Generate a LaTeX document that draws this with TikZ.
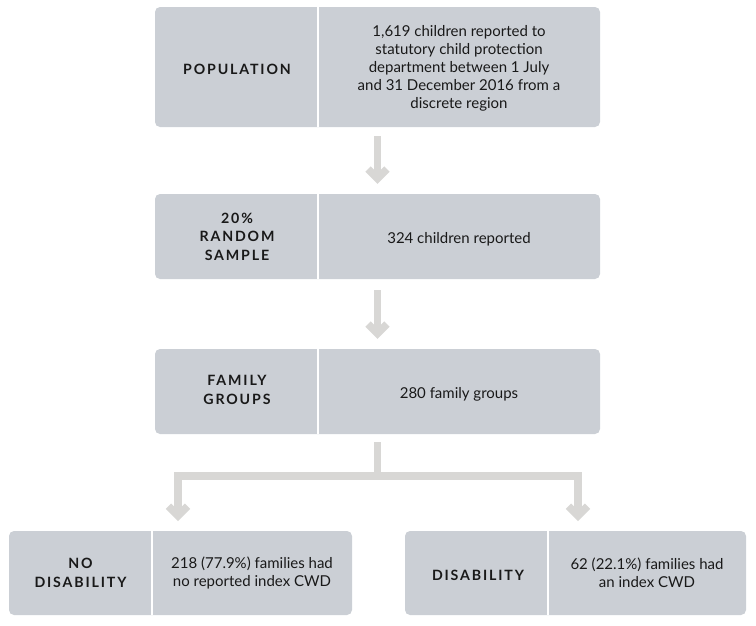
\documentclass[tikz,border=0pt]{standalone}
\usepackage{fontspec}
\setmainfont{Lato}
\newfontfamily\lblfont[LetterSpace=13]{Lato}
\usetikzlibrary{arrows.meta}
\definecolor{boxfill}{RGB}{203,207,213}
\definecolor{arrowgray}{RGB}{216,215,213}
\definecolor{txt}{RGB}{25,25,25}
\begin{document}
\begin{tikzpicture}[x=1pt,y=-1pt,
  box/.style={fill=boxfill, rounded corners=5pt, inner sep=0pt},
  divider/.style={draw=white, line width=1.6pt},
  lbl/.style={font=\lblfont\bfseries\fontsize{14.2}{18.5}\selectfont, text=txt, align=center},
  body/.style={font=\fontsize{15}{18}\selectfont, text=txt, align=center},
  flowline/.style={draw=arrowgray, line width=7.5pt, line join=miter},
  flow/.style={flowline, -{Straight Barb[length=9.5pt,width=19pt]}},
]
\useasboundingbox (0,0) rectangle (756,625);
% boxes
\node[box, minimum width=445pt, minimum height=120pt] (pop) at (377.5,67) {};
\node[box, minimum width=445pt, minimum height=85pt] (samp) at (377.5,236.5) {};
\node[box, minimum width=445pt, minimum height=85pt] (fam) at (377.5,391.5) {};
\node[box, minimum width=343pt, minimum height=84pt] (nodis) at (180.5,573) {};
\node[box, minimum width=341pt, minimum height=84pt] (dis) at (575.5,573) {};
% dividers
\draw[divider] (318,7) -- (318,127);
\draw[divider] (318,194) -- (318,279);
\draw[divider] (318,349) -- (318,434);
\draw[divider] (152,531) -- (152,615);
\draw[divider] (548,531) -- (548,615);
% labels and texts
\node[lbl] (popl) at (237,69) {POPULATION};
\node[body] (popt) at (459,68) {1,619 children reported to\\statutory child protection\\department between 1 July\\and 31 December 2016 from a\\discrete region};
\node[lbl] (sampl) at (237,236.5) {20\%\\RANDOM\\SAMPLE};
\node[body] (sampt) at (459,239) {324 children reported};
\node[lbl] (faml) at (237,390) {FAMILY\\GROUPS};
\node[body] (famt) at (459,394) {280 family groups};
\node[lbl] (nodisl) at (80.5,573) {NO\\DISABILITY};
\node[body] (nodist) at (252,573) {218 (77.9\%) families had\\no reported index CWD};
\node[lbl] (disl) at (478,575) {DISABILITY};
\node[body] (dist) at (647,573) {62 (22.1\%) families had\\an index CWD};
% connectors
\draw[flow, shorten <=9pt, shorten >=10pt] (pop) -- (samp);
\draw[flow, shorten <=11pt, shorten >=10pt] (samp) -- (fam);
\coordinate (split) at (377.5,476);
\coordinate (tipL) at (178,521);
\coordinate (tipR) at (578,521);
\draw[flowline] ([yshift=-8pt]fam.south) -- (split);
\draw[flow] (split) -| (tipL);
\draw[flow] (split) -| (tipR);
\end{tikzpicture}
\end{document}
